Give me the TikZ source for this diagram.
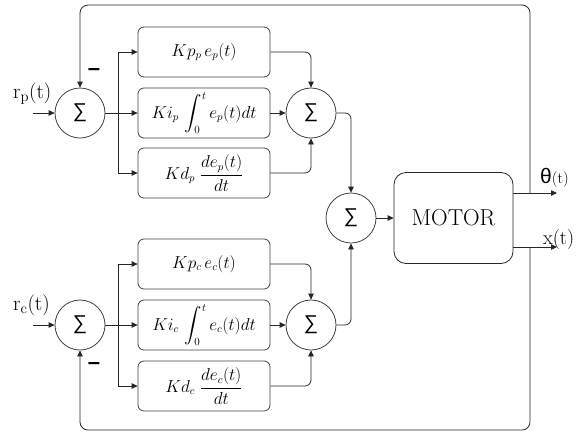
\documentclass[tikz,border=0pt]{standalone}
\usepackage{amsmath}
\usepackage{fontspec}
\newfontfamily\sigmafont{Liberation Sans}
\usetikzlibrary{arrows.meta}
\begin{document}
\begin{tikzpicture}[x=1pt,y=-1pt,
  line/.style={draw=black!85, line width=0.8pt},
  arr/.style={line, -{Triangle[length=6pt,width=5.5pt]}},
  sumnode/.style={circle, draw=black!75, line width=0.8pt, minimum size=50pt, inner sep=0pt, font=\sigmafont\fontsize{20}{20}\selectfont},
  pidbox/.style={rectangle, rounded corners=6pt, draw=black!75, line width=0.8pt, minimum width=132pt, minimum height=50pt, inner sep=0pt, font=\fontsize{16}{19}\selectfont},
  motorbox/.style={rectangle, rounded corners=12pt, draw=black!85, line width=0.8pt, minimum width=119pt, minimum height=91pt, inner sep=0pt, font=\fontsize{23}{26}\selectfont},
  lbl/.style={inner sep=0pt, anchor=base west},
  minus/.style={inner sep=0pt, font=\sigmafont\bfseries\fontsize{22}{22}\selectfont},
  fb/.style={arr, rounded corners=8pt}]
\useasboundingbox (0,0) rectangle (577,432);

% summing junctions
\node[sumnode] (sp) at (80,113) {∑};
\node[sumnode] (sc) at (80,325) {∑};
\node[sumnode] (sp2) at (311,113) {∑};
\node[sumnode] (sc2) at (311,325) {∑};
\node[sumnode] (sm) at (351,218) {∑};

% PID boxes
\node[pidbox] (kpp) at (204,52) {$Kp_p\,e_p(t)$};
\node[pidbox] (kip) at (204,113) {$Ki_p\,\displaystyle\int_0^t e_p(t)dt$};
\node[pidbox] (kdp) at (204,173) {$Kd_p\ \dfrac{de_p(t)}{dt}$};
\node[pidbox] (kpc) at (204,264) {$Kp_c\,e_c(t)$};
\node[pidbox] (kic) at (204,325) {$Ki_c\,\displaystyle\int_0^t e_c(t)dt$};
\node[pidbox] (kdc) at (204,386) {$Kd_c\ \dfrac{de_c(t)}{dt}$};

% motor
\node[motorbox] (motor) at (453.5,218) {MOTOR};

% inputs
\node[lbl, font=\fontsize{21}{21}\selectfont] (rp) at (13,98) {r\textsubscript{p}(t)};
\node[lbl, font=\fontsize{21}{21}\selectfont] (rc) at (13,310) {r\textsubscript{c}(t)};
\coordinate (inp) at (33,113);
\coordinate (inc) at (33,325);
\draw[arr] (inp) -- (sp.west);
\draw[arr] (inc) -- (sc.west);

% branches to PID boxes
\coordinate (bp) at (118,113);
\coordinate (bc) at (118,325);
\draw[line] (sp.east) -- (bp);
\draw[arr] (bp) -- (kip.west);
\draw[arr] (bp) |- (kpp.west);
\draw[arr] (bp) |- (kdp.west);
\draw[line] (sc.east) -- (bc);
\draw[arr] (bc) -- (kic.west);
\draw[arr] (bc) |- (kpc.west);
\draw[arr] (bc) |- (kdc.west);

% PID outputs to sums
\draw[arr, rounded corners=6pt] (kpp.east) -| (sp2.north);
\draw[arr] (kip.east) -- (sp2.west);
\draw[arr, rounded corners=6pt] (kdp.east) -| (sp2.south);
\draw[arr, rounded corners=6pt] (kpc.east) -| (sc2.north);
\draw[arr] (kic.east) -- (sc2.west);
\draw[arr, rounded corners=6pt] (kdc.east) -| (sc2.south);

% sums to final sum and motor
\draw[arr, rounded corners=6pt] (sp2.east) -| (sm.north);
\draw[arr, rounded corners=6pt] (sc2.east) -| (sm.south);
\draw[arr] (sm.east) -- (motor.west);

% outputs
\coordinate (thEnd) at (557,193);
\coordinate (xEnd) at (557,247);
\draw[arr] (motor.east |- thEnd) -- (thEnd);
\draw[arr] (motor.east |- xEnd) -- (xEnd);
\node[lbl] (theta) at (540,183) {{\sigmafont\fontsize{21}{21}\selectfont θ}{\fontsize{16}{16}\selectfont(t)}};
\node[lbl, font=\fontsize{20}{20}\selectfont] (xt) at (543,244) {x(t)};

% feedback loops
\coordinate (thb) at (530,193);
\coordinate (xb) at (530,247);
\coordinate (fbtop) at (80,5);
\coordinate (fbbot) at (80,430);
\draw[fb] (thb) |- (fbtop) -- (sp.north);
\draw[fb] (xb) |- (fbbot) -- (sc.south);

% minus signs
\node[minus] (m1) at (94,72) {–};
\node[minus] (m2) at (94,366) {–};
\end{tikzpicture}
\end{document}
